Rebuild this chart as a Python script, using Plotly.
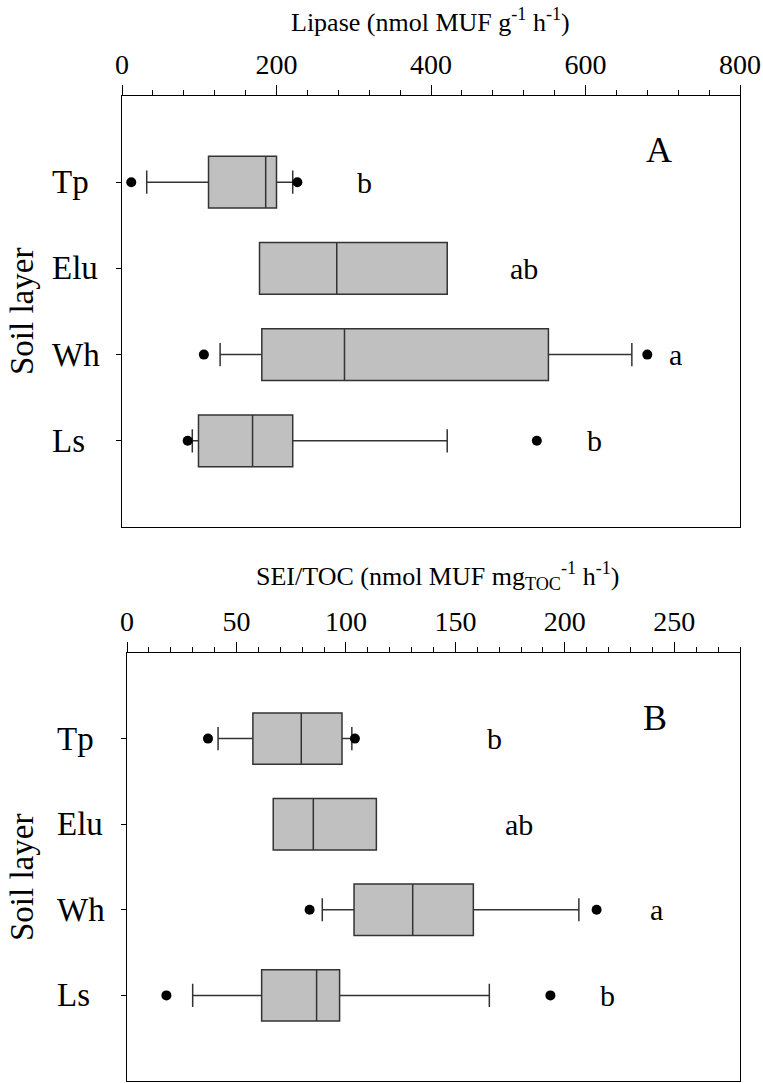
import plotly.graph_objects as go

# ---------------- data ----------------
layers = ["Tp", "Elu", "Wh", "Ls"]
positions = [1, 2, 3, 4]

# Panel A: Lipase (nmol MUF g-1 h-1)
lip_low_fence = [32, 178, 127, 91]
lip_q1 = [112, 178, 181, 99]
lip_median = [186, 278, 288, 169]
lip_q3 = [200, 421, 552, 221]
lip_up_fence = [221, 421, 660, 421]
lip_out_low = [12, None, 106, 85]
lip_out_high = [227, None, 680, 537]
lip_letters = ["b", "ab", "a", "b"]

# Panel B: SEI/TOC (nmol MUF mgTOC-1 h-1)
sei_low_fence = [41.6, 66.8, 89.2, 30]
sei_q1 = [57.5, 66.8, 103.7, 61.5]
sei_median = [79.6, 85.1, 130.5, 86.6]
sei_q3 = [98.2, 113.9, 158.2, 97.1]
sei_up_fence = [102.7, 113.9, 206.4, 165.5]
sei_out_low = [37.0, None, 83.4, 18.0]
sei_out_high = [104.1, None, 214.5, 193.4]
sei_letters = ["b", "ab", "a", "b"]

# annotation placement (layout, not data)
lip_letter_x = [314, 521, 717, 612]
sei_letter_x = [168, 179, 242, 219.5]

FONT = "Liberation Serif, Times New Roman, serif"
BOX_FILL = "#c0c0c0"
LINE = "#333333"

W, H = 763, 1083
def px(x):
    return x / W
def py(y):
    return 1 - y / H

fig = go.Figure()

def add_panel(xa, ya, lf, q1, med, q3, uf, olow, ohigh):
    for i, p in enumerate(positions):
        fig.add_trace(go.Box(
            y=[p], q1=[q1[i]], median=[med[i]], q3=[q3[i]],
            lowerfence=[lf[i]], upperfence=[uf[i]],
            orientation="h", width=0.6, whiskerwidth=0.45,
            fillcolor=BOX_FILL, line=dict(color=LINE, width=1.5),
            boxpoints=False, showlegend=False, hoverinfo="skip",
            xaxis=xa, yaxis=ya,
        ))
    ox, oy = [], []
    for i, p in enumerate(positions):
        for v in (olow[i], ohigh[i]):
            if v is not None:
                ox.append(v)
                oy.append(p)
    fig.add_trace(go.Scatter(
        x=ox, y=oy, mode="markers",
        marker=dict(color="black", size=10),
        showlegend=False, hoverinfo="skip", xaxis=xa, yaxis=ya,
    ))

add_panel("x", "y", lip_low_fence, lip_q1, lip_median, lip_q3, lip_up_fence,
          lip_out_low, lip_out_high)
add_panel("x2", "y2", sei_low_fence, sei_q1, sei_median, sei_q3, sei_up_fence,
          sei_out_low, sei_out_high)

xcommon = dict(side="top", showline=True, mirror=True, linecolor="black",
               linewidth=1.2, ticks="outside", ticklen=10, tickwidth=1,
               tickcolor="black", showgrid=False, zeroline=False,
               automargin=False,
               tickfont=dict(family=FONT, size=28, color="black"))
ycommon = dict(showline=True, mirror=True, linecolor="black", linewidth=1.2,
               ticks="outside", ticklen=5, tickwidth=1, tickcolor="black",
               showgrid=False, zeroline=False, range=[5, 0], automargin=False,
               tickvals=positions, showticklabels=False)

fig.update_layout(
    width=W, height=H, autosize=False,
    margin=dict(l=0, r=0, t=0, b=0, pad=0, autoexpand=False),
    paper_bgcolor="white", plot_bgcolor="white",
    xaxis=dict(**xcommon, domain=[px(122), px(740)], range=[0, 800],
               tickvals=[0, 200, 400, 600, 800], anchor="y",
               minor=dict(dtick=40, ticklen=5, ticks="outside", tickcolor="black")),
    yaxis=dict(**ycommon, domain=[py(527), py(96)], anchor="x"),
    xaxis2=dict(**xcommon, domain=[px(127), px(740)], range=[0, 280],
                tickvals=[0, 50, 100, 150, 200, 250], anchor="y2",
                minor=dict(dtick=10, ticklen=5, ticks="outside", tickcolor="black")),
    yaxis2=dict(**ycommon, domain=[py(1081), py(653)], anchor="x2"),
)

ann = []
# axis titles
ann.append(dict(text="Lipase (nmol MUF g<sup>-1</sup> h<sup>-1</sup>)",
                xref="paper", yref="paper", x=px(430), y=py(20),
                xanchor="center", yanchor="middle",
                showarrow=False, font=dict(family=FONT, size=26, color="black")))
ann.append(dict(text="SEI/TOC (nmol MUF mg<sub>TOC</sub><sup>-1</sup> h<sup>-1</sup>)",
                xref="paper", yref="paper", x=px(437), y=py(576),
                xanchor="center", yanchor="middle",
                showarrow=False, font=dict(family=FONT, size=26, color="black")))
# y titles
for yc in (py(312), py(878)):
    ann.append(dict(text="Soil layer", xref="paper", yref="paper", x=px(22), y=yc,
                    xanchor="center", yanchor="middle",
                    textangle=-90, showarrow=False,
                    font=dict(family=FONT, size=33, color="black")))
# category labels, left aligned
for yref, xl in (("y", 50), ("y2", 55)):
    for p, lab in zip(positions, layers):
        ann.append(dict(text=lab, xref="paper", yref=yref, x=px(xl), y=p,
                        xanchor="left", yanchor="middle", showarrow=False,
                        font=dict(family=FONT, size=33, color="black")))
# letters
for p, lx, lt in zip(positions, lip_letter_x, lip_letters):
    ann.append(dict(text=lt, xref="x", yref="y", x=lx, y=p, showarrow=False,
                    xanchor="center", yanchor="middle",
                    font=dict(family=FONT, size=30, color="black")))
for p, lx, lt in zip(positions, sei_letter_x, sei_letters):
    ann.append(dict(text=lt, xref="x2", yref="y2", x=lx, y=p, showarrow=False,
                    xanchor="center", yanchor="middle",
                    font=dict(family=FONT, size=30, color="black")))
# panel letters
ann.append(dict(text="A", xref="x", yref="y", x=695, y=0.63, showarrow=False,
                xanchor="center", yanchor="middle",
                font=dict(family=FONT, size=36, color="black")))
ann.append(dict(text="B", xref="x2", yref="y2", x=241, y=0.76, showarrow=False,
                xanchor="center", yanchor="middle",
                font=dict(family=FONT, size=36, color="black")))
fig.update_layout(annotations=ann)

post = (
    "document.body.style.margin='0';"
    "document.body.style.overflow='hidden';"
    "var gd=document.getElementById('{plot_id}');"
    "gd.style.width='763px';gd.style.height='1083px';"
    "Plotly.relayout(gd,{width:763,height:1083,autosize:false});"
)
fig.write_html("out.html", config={"displayModeBar": False, "responsive": False},
               post_script=post)
